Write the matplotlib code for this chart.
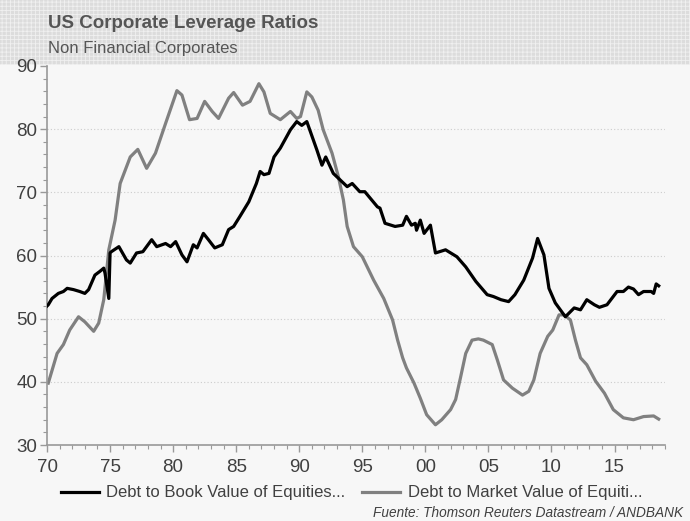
import matplotlib
matplotlib.use("Agg")
import matplotlib.pyplot as plt
from matplotlib.patches import Rectangle
from matplotlib.ticker import MultipleLocator

# Debt to Book Value of Equities (black)
book_x = [1970.0, 1970.1, 1970.4, 1970.9, 1971.3, 1971.6, 1972.1, 1972.6, 1973.0, 1973.3,
          1973.8, 1974.2, 1974.5, 1974.6, 1974.9, 1975.0, 1975.1, 1975.7, 1976.3, 1976.6,
          1977.1, 1977.6, 1978.3, 1978.7, 1979.4, 1979.8, 1980.2, 1980.7, 1981.1, 1981.6,
          1981.9, 1982.4, 1982.8, 1983.3, 1983.9, 1984.4, 1984.8, 1985.3, 1986.0, 1986.6,
          1986.9, 1987.2, 1987.6, 1988.0, 1988.5, 1989.3, 1989.8, 1990.2, 1990.6, 1991.4,
          1991.8, 1992.1, 1992.7, 1993.8, 1994.2, 1994.8, 1995.2, 1996.2, 1996.4, 1996.8,
          1997.6, 1998.2, 1998.5, 1998.9, 1999.2, 1999.3, 1999.6, 1999.9, 2000.4, 2000.8,
          2001.6, 2002.5, 2003.2, 2004.0, 2004.9, 2005.4, 2006.0, 2006.6, 2007.1, 2007.8,
          2008.5, 2008.9, 2009.4, 2009.8, 2010.3, 2010.7, 2011.1, 2011.4, 2011.8, 2012.3,
          2012.8, 2013.4, 2013.8, 2014.4, 2015.2, 2015.7, 2016.1, 2016.5, 2016.9, 2017.3,
          2017.9, 2018.1, 2018.3, 2018.5]
book_y = [52.0, 52.2, 53.2, 54.0, 54.3, 54.8, 54.6, 54.3, 54.0, 54.6,
          56.9, 57.5, 58.0, 57.2, 53.2, 60.4, 60.6, 61.4, 59.3, 58.8,
          60.4, 60.6, 62.5, 61.4, 61.9, 61.4, 62.2, 60.1, 59.0, 61.7,
          61.2, 63.5, 62.5, 61.2, 61.7, 64.1, 64.6, 66.2, 68.5, 71.4,
          73.3, 72.8, 73.0, 75.6, 77.0, 79.9, 81.2, 80.6, 81.2, 76.7,
          74.3, 75.6, 73.0, 70.9, 71.4, 70.1, 70.1, 67.7, 67.5, 65.1,
          64.6, 64.8, 66.2, 64.8, 65.1, 64.0, 65.6, 63.5, 64.8, 60.4,
          60.9, 59.8, 58.2, 55.9, 53.8, 53.5, 53.0, 52.7, 53.8, 56.1,
          59.6, 62.7, 60.1, 54.8, 52.5, 51.4, 50.3, 50.9, 51.7, 51.4,
          53.0, 52.2, 51.8, 52.2, 54.3, 54.3, 55.0, 54.7, 53.8, 54.3,
          54.3, 54.0, 55.5, 55.2]

# Debt to Market Value of Equities (grey)
mkt_x = [1970.1, 1970.8, 1971.3, 1971.8, 1972.5, 1973.0, 1973.7, 1974.1, 1974.5, 1974.9,
         1975.4, 1975.8, 1976.2, 1976.6, 1977.2, 1977.9, 1978.6, 1979.4, 1980.3, 1980.7,
         1981.3, 1981.9, 1982.5, 1983.1, 1983.6, 1984.4, 1984.8, 1985.5, 1986.1, 1986.8,
         1987.2, 1987.7, 1988.5, 1989.3, 1989.8, 1990.1, 1990.6, 1991.0, 1991.5, 1991.9,
         1992.6, 1993.1, 1993.5, 1993.8, 1994.3, 1995.0, 1995.9, 1996.7, 1997.4, 1997.8,
         1998.2, 1998.5, 1999.1, 1999.6, 2000.1, 2000.8, 2001.3, 2002.0, 2002.4, 2002.8,
         2003.2, 2003.7, 2004.2, 2004.6, 2005.3, 2005.7, 2006.2, 2006.9, 2007.7, 2008.2,
         2008.6, 2009.1, 2009.7, 2010.1, 2010.6, 2011.0, 2011.5, 2011.9, 2012.3, 2012.8,
         2013.5, 2014.2, 2014.9, 2015.7, 2016.5, 2017.3, 2018.1, 2018.5]
mkt_y = [39.8, 44.5, 45.9, 48.2, 50.3, 49.5, 48.0, 49.3, 53.0, 60.9,
         65.6, 71.4, 73.5, 75.6, 76.8, 73.8, 76.2, 80.9, 86.1, 85.4,
         81.5, 81.7, 84.4, 82.8, 81.7, 84.9, 85.8, 83.8, 84.4, 87.2,
         85.9, 82.5, 81.5, 82.8, 81.7, 82.0, 85.9, 85.1, 83.0, 79.9,
         76.2, 72.5, 68.8, 64.6, 61.4, 59.8, 56.1, 53.2, 49.8, 46.6,
         43.8, 42.2, 39.8, 37.4, 34.8, 33.2, 34.0, 35.6, 37.2, 40.8,
         44.5, 46.6, 46.8, 46.6, 45.9, 43.5, 40.3, 39.0, 37.9, 38.5,
         40.3, 44.5, 47.2, 48.2, 50.6, 50.6, 49.8, 46.6, 43.8, 42.7,
         40.1, 38.2, 35.6, 34.3, 34.0, 34.5, 34.6, 34.1]

xticks = [1970, 1975, 1980, 1985, 1990, 1995, 2000, 2005, 2010, 2015]
xlabels = ['70', '75', '80', '85', '90', '95', '00', '05', '10', '15']
yticks = [30, 40, 50, 60, 70, 80, 90]

bg = '#f7f7f7'
txt = '#404040'
plt.rcParams['font.family'] = ['Liberation Sans', 'DejaVu Sans']
plt.rcParams['hatch.linewidth'] = 0.6

fig = plt.figure(figsize=(6.9, 5.21), dpi=100, facecolor=bg)

# header band with the grid texture
hdr = Rectangle((0, 1 - 65 / 521), 1, 65 / 521, transform=fig.transFigure,
                facecolor='#dcdcdc', edgecolor='#f0f0f0', hatch='++++', lw=0, zorder=-1)
fig.patches.append(hdr)
fig.text(48 / 690, 1 - 23 / 521, 'US Corporate Leverage Ratios', fontsize=13.5,
         fontweight='bold', color='#555555', va='center')
fig.text(48 / 690, 1 - 48 / 521, 'Non Financial Corporates', fontsize=12,
         color='#555555', va='center')

ax = fig.add_axes([47 / 690, 1 - 445 / 521, (665 - 47) / 690, (445 - 66) / 521])
ax.set_zorder(2)
ax.set_facecolor(bg)
ax.plot(book_x, book_y, color='black', lw=2.3, label='Debt to Book Value of Equities...',
        zorder=3)
ax.plot(mkt_x, mkt_y, color='#808080', lw=2.3, label='Debt to Market Value of Equiti...',
        zorder=2)

ax.set_xlim(1970, 2019)
ax.set_ylim(30, 90)
ax.set_xticks(xticks)
ax.set_xticklabels(xlabels)
ax.set_yticks(yticks)
ax.xaxis.set_minor_locator(MultipleLocator(1))
ax.yaxis.set_minor_locator(MultipleLocator(2))
ax.tick_params(axis='both', which='major', labelsize=13.5, colors='#999999',
               labelcolor=txt, length=5, width=1, direction='out')
ax.tick_params(axis='both', which='minor', colors='#999999', length=3, width=0.8)
ax.tick_params(axis='x', pad=5)
ax.tick_params(axis='y', pad=2)
for s in ['top', 'right']:
    ax.spines[s].set_visible(False)
for s in ['left', 'bottom']:
    ax.spines[s].set_color('#999999')
    ax.spines[s].set_linewidth(1.2)
for v in [40, 50, 60, 70, 80]:
    ax.axhline(v, color='#cccccc', lw=0.8, ls=(0, (1, 2)), zorder=1)

fig.legend(loc='center left', bbox_to_anchor=(0.066, 1 - 493 / 521), ncol=2,
           frameon=False, fontsize=12, handlelength=2.3, columnspacing=1.0,
           labelcolor=txt, handletextpad=0.45)
fig.text(0.99, 1 - 513 / 521, 'Fuente: Thomson Reuters Datastream / ANDBANK',
         fontsize=9.8, style='italic', color=txt, ha='right', va='center')

fig.savefig('out.png', dpi=100, facecolor=bg)
